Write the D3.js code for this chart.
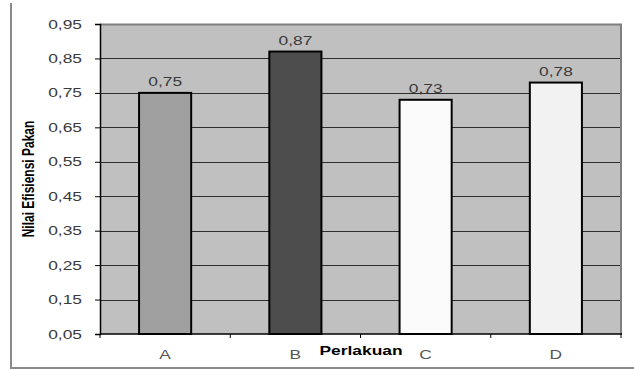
<!DOCTYPE html>
<html>
<head>
<meta charset="utf-8">
<script src="https://cdn.jsdelivr.net/npm/d3@7"></script>
<style>
  html, body { margin: 0; padding: 0; background: #ffffff; }
  svg { display: block; }
  text { font-family: "Liberation Sans", Arial, sans-serif; }
</style>
</head>
<body>
<svg id="chart" width="634" height="370"></svg>
<script>
// Feed efficiency per treatment
const categories = ["A", "B", "C", "D"];
const values = [0.75, 0.87, 0.73, 0.78];
const valueLabels = ["0,75", "0,87", "0,73", "0,78"];
const barColors = ["#a0a0a0", "#4d4d4d", "#fbfbfb", "#f2f2f2"];
const yTicks = [0.05, 0.15, 0.25, 0.35, 0.45, 0.55, 0.65, 0.75, 0.85, 0.95];
const yTickLabels = ["0,05", "0,15", "0,25", "0,35", "0,45", "0,55", "0,65", "0,75", "0,85", "0,95"];
const xTitle = "Perlakuan";
const yTitle = "Nilai Efisiensi Pakan";

const svg = d3.select("#chart");
const plot = { left: 100, right: 621, top: 24, bottom: 334 };
const stretch = 1.45; // wide lettering

const x = d3.scaleBand()
  .domain(categories)
  .range([plot.left, plot.right])
  .paddingInner(0.6)
  .paddingOuter(0.3);

const y = d3.scaleLinear()
  .domain([0.05, 0.95])
  .range([plot.bottom, plot.top]);

// outer frame (left and bottom edges)
svg.append("line")
  .attr("x1", 11).attr("x2", 11).attr("y1", 3).attr("y2", 368)
  .attr("stroke", "#8a8a8a").attr("stroke-width", 2);
svg.append("line")
  .attr("x1", 10).attr("x2", 634).attr("y1", 368).attr("y2", 368)
  .attr("stroke", "#8a8a8a").attr("stroke-width", 2);

// plot background
svg.append("rect")
  .attr("x", plot.left).attr("y", plot.top)
  .attr("width", plot.right - plot.left).attr("height", plot.bottom - plot.top)
  .attr("fill", "#c0c0c0");

// horizontal gridlines
svg.append("g")
  .selectAll("line")
  .data(yTicks.filter(v => v > 0.05 && v < 0.95))
  .join("line")
  .attr("x1", plot.left).attr("x2", plot.right)
  .attr("y1", d => Math.round(y(d)) + 0.5).attr("y2", d => Math.round(y(d)) + 0.5)
  .attr("stroke", "#2e2e2e").attr("stroke-width", 1);

// top and right border
svg.append("path")
  .attr("d", `M${plot.left},${plot.top + 0.5}H${plot.right}V${plot.bottom}`)
  .attr("fill", "none").attr("stroke", "#7f7f7f").attr("stroke-width", 2);

// bars
svg.append("g")
  .selectAll("rect")
  .data(categories)
  .join("rect")
  .attr("x", d => x(d))
  .attr("y", (d, i) => y(values[i]))
  .attr("width", x.bandwidth())
  .attr("height", (d, i) => y(0.05) - y(values[i]))
  .attr("fill", (d, i) => barColors[i])
  .attr("stroke", "#000")
  .attr("stroke-width", 2);

// y axis
const yAxis = d3.axisLeft(y)
  .tickValues(yTicks)
  .tickSize(5)
  .tickFormat("");
const gy = svg.append("g")
  .attr("transform", `translate(${plot.left},0)`)
  .call(yAxis);
gy.select(".domain").attr("stroke", "#000").attr("stroke-width", 1.5);
gy.selectAll(".tick line").attr("stroke", "#000");

// x axis
const xEdges = [plot.left, ...categories.map(c => x(c) + x.bandwidth() / 2 + x.step() / 2)];
const gx = svg.append("g")
  .attr("transform", `translate(0,${plot.bottom})`);
gx.append("line")
  .attr("x1", plot.left).attr("x2", plot.right + 1)
  .attr("stroke", "#000").attr("stroke-width", 1.5);
gx.selectAll("line.tick")
  .data(xEdges)
  .join("line")
  .attr("class", "tick")
  .attr("x1", d => d).attr("x2", d => d)
  .attr("y1", 0).attr("y2", 4)
  .attr("stroke", "#000");

// stretched label helper
function label(g, tx, ty, str, anchor, opts = {}) {
  return g.append("text")
    .attr("transform", `translate(${tx},${ty}) scale(${stretch},1)`)
    .attr("text-anchor", anchor)
    .attr("font-size", opts.size || 12)
    .attr("font-weight", opts.weight || "normal")
    .attr("fill", opts.fill || "#3a3a3a")
    .text(str);
}

// y tick labels
yTicks.forEach((v, i) => label(svg, 82, y(v) + 4.5, yTickLabels[i], "end"));

// category labels
categories.forEach(c => label(svg, x(c) + x.bandwidth() / 2, 359, c, "middle", { fill: "#555" }));

// value labels above bars
categories.forEach((c, i) =>
  label(svg, x(c) + x.bandwidth() / 2, y(values[i]) - 7, valueLabels[i], "middle"));

// axis titles
label(svg, 361, 355, xTitle, "middle", { weight: "bold", fill: "#000" });

svg.append("text")
  .attr("transform", `translate(34,179) rotate(-90) scale(1,${stretch})`)
  .attr("text-anchor", "middle")
  .attr("font-size", 12)
  .attr("font-weight", "bold")
  .attr("fill", "#000")
  .text(yTitle);
</script>
</body>
</html>
